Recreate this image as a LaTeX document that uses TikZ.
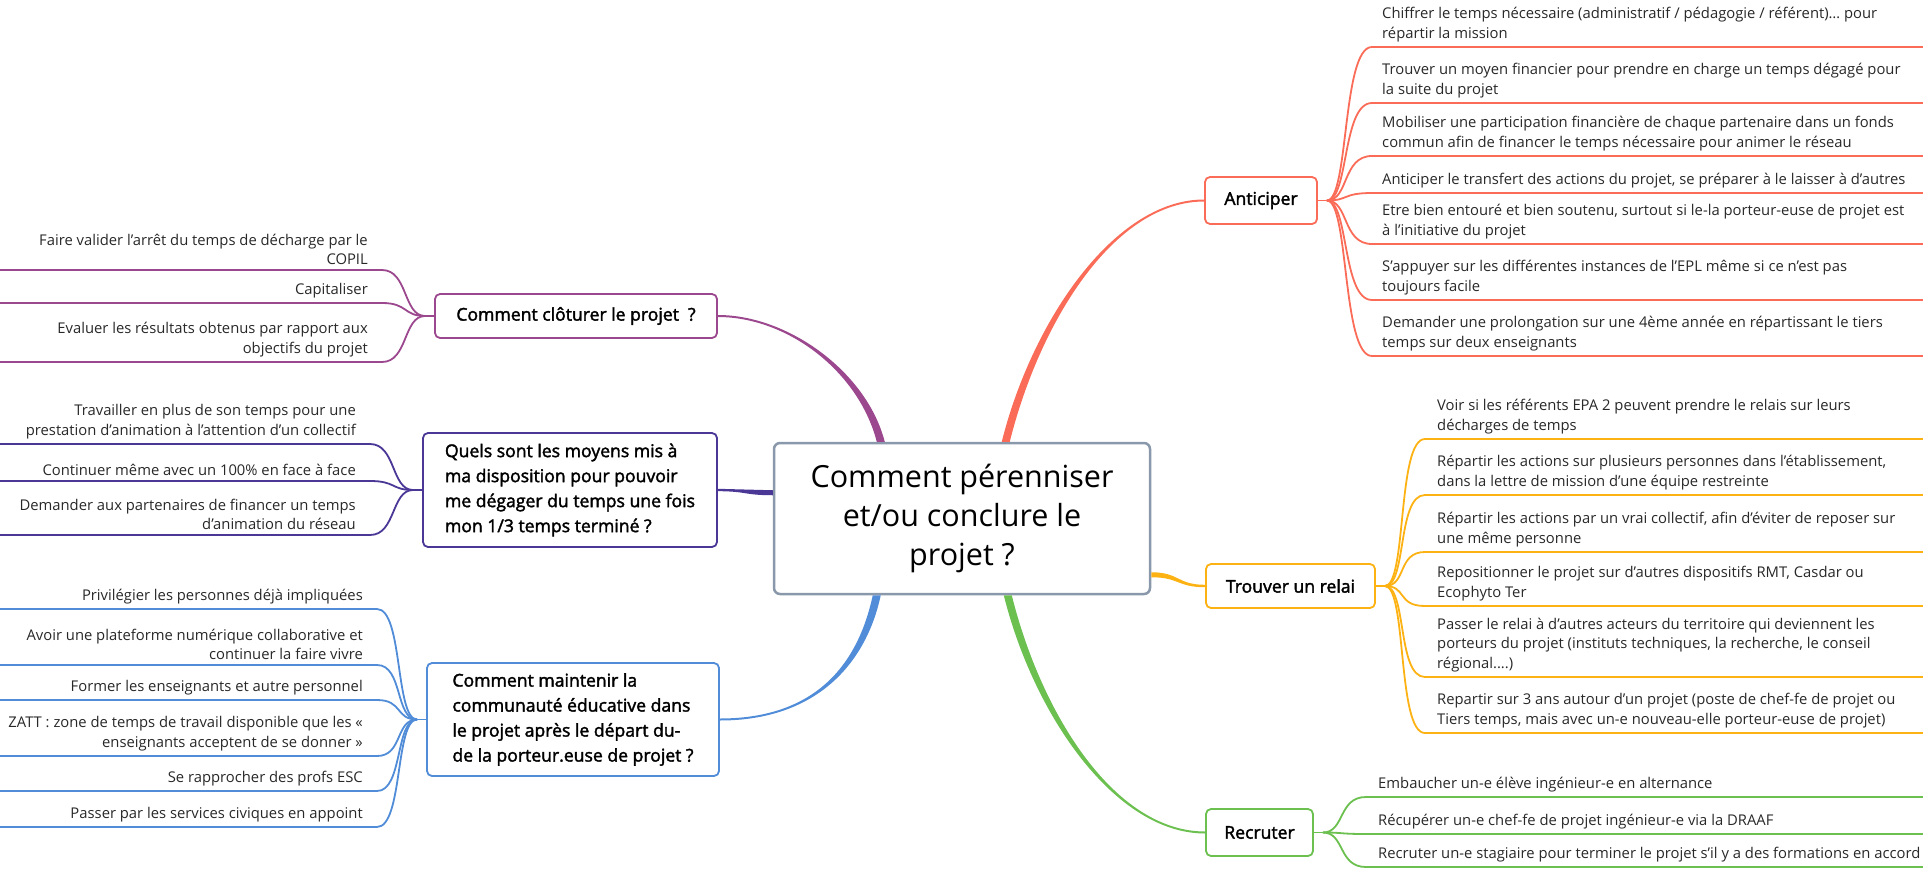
\documentclass[tikz,border=0pt]{standalone}
\usepackage{fontspec}
\setmainfont{Open Sans}
\newfontfamily\semib{Open Sans}[FakeBold=2]
\usetikzlibrary{calc}
\definecolor{cPur}{RGB}{156,72,143}
\definecolor{cInd}{RGB}{75,55,150}
\definecolor{cBlu}{RGB}{80,140,215}
\definecolor{cRed}{RGB}{250,108,88}
\definecolor{cOra}{RGB}{253,178,20}
\definecolor{cGre}{RGB}{108,192,80}
\definecolor{cGry}{RGB}{138,152,172}
\definecolor{cTxt}{RGB}{40,40,40}
\tikzset{
 leaf/.style={font=\fontsize{14.8}{19.6}\selectfont, inner xsep=0pt, inner ysep=5pt, text=cTxt},
 leafR/.style={leaf, anchor=south west, align=left},
 leafL/.style={leaf, anchor=south east, align=right},
 sub/.style={draw=#1, line width=1.8pt, rounded corners=5pt, fill=white, font=\semib\fontsize{17.6}{25}\selectfont, inner sep=0pt},
 lnk/.style={draw=#1, line width=1.8pt},
}
\begin{document}
\begin{tikzpicture}[x=1pt,y=-1pt]
\useasboundingbox (0,0) rectangle (1923,870);
\coordinate (E) at (1923,0);
\coordinate (W) at (0,0);

% central
\node[draw=cGry, line width=2.5pt, rounded corners=6pt, fill=white, minimum width=376pt, minimum height=151pt, align=center, font=\fontsize{30.5}{39}\selectfont, inner sep=0pt] (C) at (962,518.5) {Comment pérenniser\\et/ou conclure le\\projet ?};

% subtopics
\node[sub=cRed, minimum width=112pt, minimum height=47pt] (A) at (1261,200.5) {Anticiper};
\node[sub=cOra, minimum width=169pt, minimum height=44pt] (T) at (1290.5,586) {Trouver un relai};
\node[sub=cGre, minimum width=107pt, minimum height=47pt] (R) at (1259.5,832.5) {Recruter};
\node[sub=cPur, minimum width=282pt, minimum height=44pt] (K) at (576,316) {Comment clôturer le projet \ ?};
\node[sub=cInd, minimum width=294pt, minimum height=114pt, align=left] (Q) at (570,490) {Quels sont les moyens mis à\\ma disposition pour pouvoir\\me dégager du temps une fois\\mon 1/3 temps terminé ?};
\node[sub=cBlu, minimum width=292pt, minimum height=113pt, align=left] (M) at (573,719.5) {Comment maintenir la\\communauté éducative dans\\le projet après le départ du-\\de la porteur.euse de projet ?};

% main connectors (tapered)
\coordinate (sA) at ($(C.north west)+(233,0)$);
\fill[cRed] ($(sA)+(-4,0)$) .. controls ($(sA)+(26,-120)$) and ($(A.west)+(-90,-1)$) .. ($(A.west)+(0,-1)$) -- ($(A.west)+(0,1)$) .. controls ($(A.west)+(-90,1)$) and ($(sA)+(34,-120)$) .. ($(sA)+(4,0)$) -- cycle;
\coordinate (sG) at ($(C.south west)+(235,0)$);
\fill[cGre] ($(sG)+(-4,0)$) .. controls ($(sG)+(26,120)$) and ($(R.west)+(-90,1)$) .. ($(R.west)+(0,1)$) -- ($(R.west)+(0,-1)$) .. controls ($(R.west)+(-90,-1)$) and ($(sG)+(34,120)$) .. ($(sG)+(4,0)$) -- cycle;
\coordinate (sP) at ($(C.north west)+(108,0)$);
\fill[cPur] ($(sP)+(4,0)$) .. controls ($(sP)+(-14,-70)$) and ($(K.east)+(70,-1)$) .. ($(K.east)+(0,-1)$) -- ($(K.east)+(0,1)$) .. controls ($(K.east)+(70,1)$) and ($(sP)+(-22,-70)$) .. ($(sP)+(-4,0)$) -- cycle;
\coordinate (sB) at ($(C.south west)+(104,0)$);
\fill[cBlu] ($(sB)+(4,0)$) .. controls ($(sB)+(-11,70)$) and ($(M.east)+(95,1)$) .. ($(M.east)+(0,1)$) -- ($(M.east)+(0,-1)$) .. controls ($(M.east)+(95,-1)$) and ($(sB)+(-19,70)$) .. ($(sB)+(-4,0)$) -- cycle;
\coordinate (sQ) at ($(C.north west)+(0,51)$);
\fill[cInd] ($(sQ)+(0,-2.5)$) .. controls ($(sQ)+(-28,-2.5)$) and ($(Q.east)+(28,-1.2)$) .. ($(Q.east)+(0,-1.2)$) -- ($(Q.east)+(0,1.2)$) .. controls ($(Q.east)+(28,1.2)$) and ($(sQ)+(-28,2.5)$) .. ($(sQ)+(0,2.5)$) -- cycle;
\coordinate (sO) at ($(C.north east)+(0,133)$);
\fill[cOra] ($(sO)+(0,-2.5)$) .. controls ($(sO)+(28,-2.5)$) and ($(T.west)+(-28,-1.2)$) .. ($(T.west)+(0,-1.2)$) -- ($(T.west)+(0,1.2)$) .. controls ($(T.west)+(-28,1.2)$) and ($(sO)+(28,2.5)$) .. ($(sO)+(0,2.5)$) -- cycle;

% Anticiper leaves
\node[leafR] (a1) at (1382,47) {Chiffrer le temps nécessaire (administratif / pédagogie / référent)… pour\\répartir la mission};
\node[leafR] (a2) at (1382,103) {Trouver un moyen financier pour prendre en charge un temps dégagé pour\\la suite du projet};
\node[leafR] (a3) at (1382,156) {Mobiliser une participation financière de chaque partenaire dans un fonds\\commun afin de financer le temps nécessaire pour animer le réseau};
\node[leafR] (a4) at (1382,193) {Anticiper le transfert des actions du projet, se préparer à le laisser à d’autres};
\node[leafR] (a5) at (1382,244) {Etre bien entouré et bien soutenu, surtout si le-la porteur-euse de projet est\\à l’initiative du projet};
\node[leafR] (a6) at (1382,300) {S’appuyer sur les différentes instances de l’EPL même si ce n’est pas\\toujours facile};
\node[leafR] (a7) at (1382,356) {Demander une prolongation sur une 4ème année en répartissant le tiers\\temps sur deux enseignants};
\draw[lnk=cRed] (A.east) -- ++(9,0) coordinate (fA);
\foreach \n in {a1,a2,a3,a4,a5,a6,a7}{
 \draw[lnk=cRed] (fA) .. controls ($(fA)+(22,0)$) and ($(\n.south west)+(-40,0)$) .. ($(\n.south west)+(-10,0)$) -- (\n.south west -| E);
}

% Trouver un relai leaves
\node[leafR] (t1) at (1437,439) {Voir si les référents EPA 2 peuvent prendre le relais sur leurs\\décharges de temps};
\node[leafR] (t2) at (1437,495) {Répartir les actions sur plusieurs personnes dans l’établissement,\\dans la lettre de mission d’une équipe restreinte};
\node[leafR] (t3) at (1437,552) {Répartir les actions par un vrai collectif, afin d'éviter de reposer sur\\une même personne};
\node[leafR] (t4) at (1437,606) {Repositionner le projet sur d’autres dispositifs RMT, Casdar ou\\Ecophyto Ter};
\node[leafR] (t5) at (1437,677) {Passer le relai à d’autres acteurs du territoire qui deviennent les\\porteurs du projet (instituts techniques, la recherche, le conseil\\régional....)};
\node[leafR] (t6) at (1437,733) {Repartir sur 3 ans autour d’un projet (poste de chef-fe de projet ou\\Tiers temps, mais avec un-e nouveau-elle porteur-euse de projet)};
\draw[lnk=cOra] (T.east) -- ++(9,0) coordinate (fT);
\foreach \n in {t1,t2,t3,t4,t5,t6}{
 \draw[lnk=cOra] (fT) .. controls ($(fT)+(22,0)$) and ($(\n.south west)+(-40,0)$) .. ($(\n.south west)+(-12,0)$) -- (\n.south west -| E);
}

% Recruter leaves
\node[leafR] (r1) at (1378,797) {Embaucher un-e élève ingénieur-e en alternance};
\node[leafR] (r2) at (1378,834) {Récupérer un-e chef-fe de projet ingénieur-e via la DRAAF};
\node[leafR] (r3) at (1378,867) {Recruter un-e stagiaire pour terminer le projet s'il y a des formations en accord};
\draw[lnk=cGre] (R.east) -- ++(9,0) coordinate (fR);
\foreach \n in {r1,r2,r3}{
 \draw[lnk=cGre] (fR) .. controls ($(fR)+(22,0)$) and ($(\n.south west)+(-40,0)$) .. ($(\n.south west)+(-12,0)$) -- (\n.south west -| E);
}

% Cloturer leaves
\node[leafL] (k1) at (368,270) {Faire valider l’arrêt du temps de décharge par le\\COPIL};
\node[leafL] (k2) at (368,303) {Capitaliser};
\node[leafL] (k3) at (368,362) {Evaluer les résultats obtenus par rapport aux\\objectifs du projet};
\draw[lnk=cPur] (K.west) -- ++(-9,0) coordinate (fK);
\foreach \n in {k1,k2,k3}{
 \draw[lnk=cPur] (fK) .. controls ($(fK)+(-22,0)$) and ($(\n.south east)+(40,0)$) .. ($(\n.south east)+(14,0)$) -- (\n.south east -| W);
}

% Quels leaves
\node[leafL] (q1) at (356,444) {Travailler en plus de son temps pour une\\prestation d’animation à l’attention d’un collectif};
\node[leafL] (q2) at (356,481) {Continuer même avec un 100\% en face à face};
\node[leafL] (q3) at (356,535) {Demander aux partenaires de financer un temps\\d'animation du réseau};
\draw[lnk=cInd] (Q.west) -- ++(-9,0) coordinate (fQ);
\foreach \n in {q1,q2,q3}{
 \draw[lnk=cInd] (fQ) .. controls ($(fQ)+(-22,0)$) and ($(\n.south east)+(40,0)$) .. ($(\n.south east)+(14,0)$) -- (\n.south east -| W);
}

% Maintenir leaves
\node[leafL] (m1) at (363,609) {Privilégier les personnes déjà impliquées};
\node[leafL] (m2) at (363,665) {Avoir une plateforme numérique collaborative et\\continuer la faire vivre};
\node[leafL] (m3) at (363,700) {Former les enseignants et autre personnel};
\node[leafL] (m4) at (363,756) {ZATT : zone de temps de travail disponible que les «\\enseignants acceptent de se donner »};
\node[leafL] (m5) at (363,791) {Se rapprocher des profs ESC};
\node[leafL] (m6) at (363,827) {Passer par les services civiques en appoint};
\draw[lnk=cBlu] (M.west) -- ++(-9,0) coordinate (fM);
\foreach \n in {m1,m2,m3,m4,m5,m6}{
 \draw[lnk=cBlu] (fM) .. controls ($(fM)+(-22,0)$) and ($(\n.south east)+(40,0)$) .. ($(\n.south east)+(14,0)$) -- (\n.south east -| W);
}
\end{tikzpicture}
\end{document}
